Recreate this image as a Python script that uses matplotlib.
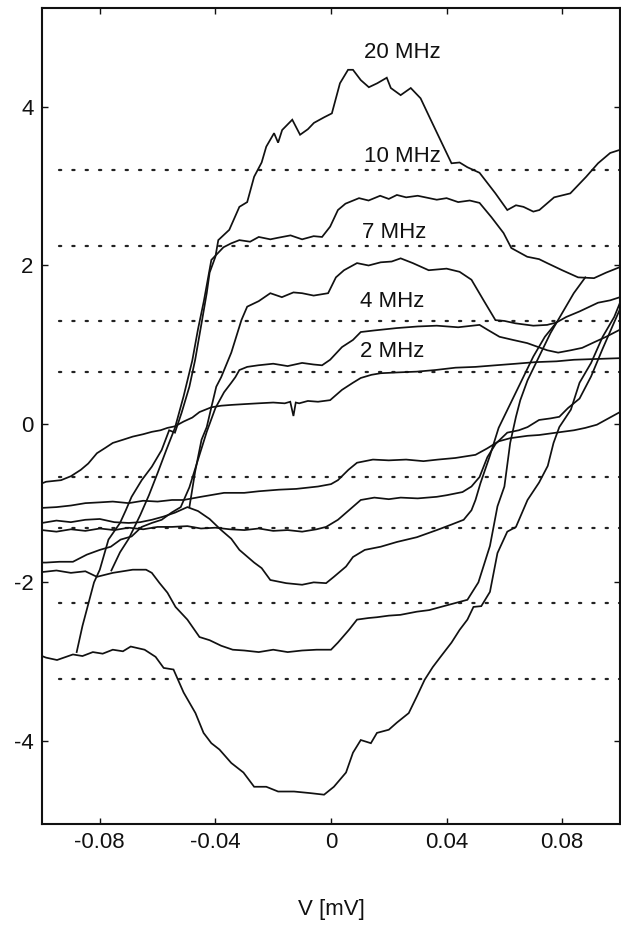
import matplotlib
matplotlib.use("Agg")
import matplotlib.pyplot as plt

plt.rcParams['font.family'] = ['Liberation Sans', 'DejaVu Sans']

# ---------------- data ----------------
freq_labels = ["20 MHz", "10 MHz", "7 MHz", "4 MHz", "2 MHz"]
label_x = [0.0246, 0.0246, 0.0218, 0.0211, 0.0211]
label_y = [4.69, 3.37, 2.42, 1.54, 0.91]

dotted_levels = [3.2, 2.25, 1.3, 0.66, -0.67, -1.32, -2.26, -3.22]

xticks = [-0.08, -0.04, 0, 0.04, 0.08]
xtick_labels = ["-0.08", "-0.04", "0", "0.04", "0.08"]
yticks = [-4, -2, 0, 2, 4]
ytick_labels = ["-4", "-2", "0", "2", "4"]

# 20 MHz
u20_x = [-0.088, -0.086, -0.082, -0.080, -0.077, -0.073, -0.071, -0.069, -0.0655, -0.062, -0.0586, -0.056,
         -0.054, -0.0517, -0.049, -0.047, -0.0448, -0.043, -0.042, -0.040, -0.039, -0.0352, -0.0317, -0.0290,
         -0.0266, -0.0240, -0.0224, -0.0197, -0.0183, -0.0169, -0.0134, -0.0107, -0.0080, -0.0059, -0.0024,
         0.0003, 0.0031, 0.0059, 0.0076, 0.0103, 0.0131, 0.0160, 0.0193, 0.0207, 0.0241, 0.0276, 0.0310,
         0.0345, 0.0379, 0.0417, 0.0445, 0.0472, 0.0514, 0.0569, 0.0610, 0.0640, 0.0666, 0.0700, 0.0721,
         0.0772, 0.0828, 0.0883, 0.0924, 0.0966, 0.1]
u20_y = [-2.88, -2.55, -2.00, -1.84, -1.46, -1.25, -1.09, -0.92, -0.71, -0.54, -0.33, -0.08,
         -0.11, 0.14, 0.47, 0.81, 1.27, 1.65, 1.91, 2.11, 2.32, 2.45, 2.74, 2.80,
         3.12, 3.30, 3.50, 3.67, 3.55, 3.71, 3.84, 3.65, 3.72, 3.80, 3.87,
         3.92, 4.30, 4.47, 4.47, 4.34, 4.25, 4.30, 4.37, 4.24, 4.15, 4.24, 4.11,
         3.84, 3.58, 3.29, 3.30, 3.24, 3.17, 2.91, 2.70, 2.76, 2.74, 2.68, 2.70,
         2.86, 2.91, 3.12, 3.29, 3.42, 3.46]
l20_x = [-0.1, -0.0986, -0.0948, -0.0893, -0.0860, -0.0824, -0.0790, -0.0755, -0.0720, -0.0693, -0.0645,
         -0.0607, -0.0579, -0.0545, -0.0510, -0.0469, -0.0441, -0.0414, -0.0386, -0.0345, -0.0303, -0.0266,
         -0.0224, -0.0183, -0.0128, -0.0072, -0.0024, 0.0010, 0.0052, 0.0076, 0.0103, 0.0138, 0.0159, 0.0200,
         0.0228, 0.0269, 0.0297, 0.0324, 0.0352, 0.0379, 0.0417, 0.0445, 0.0472, 0.0493, 0.052, 0.055,
         0.0576, 0.061, 0.064, 0.068, 0.072, 0.075, 0.077, 0.079, 0.083, 0.086, 0.090, 0.094, 0.098, 0.1]
l20_y = [-2.93, -2.95, -2.98, -2.91, -2.93, -2.88, -2.90, -2.85, -2.87, -2.81, -2.85,
         -2.94, -3.08, -3.10, -3.39, -3.65, -3.90, -4.03, -4.11, -4.28, -4.40, -4.58,
         -4.58, -4.64, -4.64, -4.66, -4.68, -4.58, -4.40, -4.15, -3.99, -4.03, -3.90, -3.86,
         -3.77, -3.65, -3.44, -3.23, -3.07, -2.94, -2.76, -2.60, -2.47, -2.31, -2.30, -2.12,
         -1.63, -1.36, -1.30, -0.96, -0.74, -0.53, -0.24, -0.04, 0.18, 0.52, 0.77, 1.10, 1.35, 1.53]

# 10 MHz
u10_x = [-0.076, -0.073, -0.070, -0.066, -0.063, -0.060, -0.057, -0.054, -0.051, -0.048, -0.046, -0.044,
         -0.0425, -0.0414, -0.0372, -0.0345, -0.0317, -0.0280, -0.0250, -0.0210, -0.0183, -0.0140, -0.0100,
         -0.0060, -0.0031, -0.0003, 0.0024, 0.0050, 0.0097, 0.0130, 0.0170, 0.0200, 0.0228, 0.0260, 0.0300,
         0.0366, 0.0400, 0.0440, 0.0480, 0.0514, 0.0555, 0.0597, 0.0624, 0.0679, 0.0720, 0.0748, 0.0800,
         0.0855, 0.0910, 0.0952, 0.1]
u10_y = [-1.85, -1.62, -1.45, -1.15, -0.90, -0.62, -0.33, -0.05, 0.35, 0.80, 1.20, 1.55,
         1.85, 2.07, 2.23, 2.28, 2.32, 2.30, 2.36, 2.33, 2.35, 2.38, 2.33,
         2.37, 2.36, 2.49, 2.70, 2.78, 2.85, 2.82, 2.88, 2.84, 2.89, 2.86, 2.88,
         2.83, 2.85, 2.80, 2.82, 2.79, 2.61, 2.41, 2.22, 2.11, 2.08, 2.03, 1.94,
         1.85, 1.84, 1.91, 1.98]
l10_x = [-0.1, -0.095, -0.090, -0.085, -0.081, -0.0755, -0.0686, -0.064, -0.0620, -0.0593, -0.0566, -0.0538,
         -0.0497, -0.0455, -0.0420, -0.0380, -0.0340, -0.0300, -0.0250, -0.0200, -0.0150, -0.0100, -0.0050,
         0.0000, 0.0024, 0.0062, 0.0090, 0.0130, 0.0159, 0.0200, 0.0240, 0.0297, 0.0340, 0.0380, 0.0431,
         0.0472, 0.051, 0.055, 0.0576, 0.060, 0.062, 0.064, 0.0655, 0.068, 0.072, 0.076, 0.080, 0.084, 0.088]
l10_y = [-1.87, -1.85, -1.88, -1.86, -1.93, -1.88, -1.84, -1.84, -1.88, -2.01, -2.13, -2.31,
         -2.47, -2.69, -2.73, -2.80, -2.85, -2.86, -2.88, -2.85, -2.88, -2.86, -2.85,
         -2.85, -2.76, -2.60, -2.47, -2.45, -2.44, -2.42, -2.41, -2.37, -2.35, -2.31, -2.26,
         -2.22, -2.00, -1.54, -1.04, -0.79, -0.24, 0.09, 0.30, 0.55, 0.85, 1.15, 1.40, 1.65, 1.85]

# 7 MHz
u7_x = [-0.049, -0.047, -0.0448, -0.043, -0.0414, -0.0397, -0.038, -0.0345, -0.031, -0.029, -0.0250, -0.0210,
        -0.0170, -0.0130, -0.0100, -0.0060, -0.0010, 0.0017, 0.0045, 0.0090, 0.0130, 0.0172, 0.0210, 0.0241,
        0.0283, 0.0338, 0.0400, 0.0445, 0.0486, 0.0528, 0.0569, 0.0600, 0.0638, 0.0700, 0.0748, 0.0780,
        0.0814, 0.0860, 0.0924, 0.0966, 0.1]
u7_y = [-1.05, -0.60, -0.20, -0.04, 0.21, 0.47, 0.59, 0.90, 1.31, 1.48, 1.55, 1.65,
        1.60, 1.66, 1.65, 1.62, 1.65, 1.85, 1.94, 2.03, 2.00, 2.04, 2.05, 2.09,
        2.03, 1.94, 1.96, 1.92, 1.82, 1.56, 1.31, 1.30, 1.27, 1.24, 1.25, 1.28,
        1.35, 1.42, 1.53, 1.56, 1.60]
l7_x = [-0.1, -0.095, -0.090, -0.085, -0.080, -0.075, -0.070, -0.066, -0.062, -0.058, -0.054, -0.0497,
        -0.046, -0.042, -0.038, -0.0345, -0.0317, -0.0266, -0.0240, -0.0210, -0.0155, -0.0100, -0.0060,
        -0.0017, 0.0010, 0.0052, 0.0076, 0.0117, 0.0172, 0.0228, 0.0297, 0.0366, 0.0417, 0.0459, 0.0486,
        0.0500, 0.0517, 0.055, 0.058, 0.062, 0.066, 0.070, 0.074, 0.078]
l7_y = [-1.25, -1.22, -1.24, -1.21, -1.20, -1.24, -1.25, -1.24, -1.21, -1.17, -1.12, -1.05,
        -1.10, -1.20, -1.34, -1.45, -1.59, -1.75, -1.82, -1.97, -2.01, -2.03, -2.00,
        -2.01, -1.93, -1.80, -1.68, -1.59, -1.55, -1.49, -1.43, -1.34, -1.27, -1.21, -1.09,
        -0.96, -0.75, -0.40, -0.05, 0.25, 0.55, 0.85, 1.10, 1.28]

# 4 MHz
u4_x = [-0.1, -0.0986, -0.094, -0.0893, -0.0845, -0.080, -0.0762, -0.0728, -0.0690, -0.0655, -0.0620, -0.0586,
        -0.0552, -0.052, -0.049, -0.046, -0.043, -0.040, -0.037, -0.0345, -0.0331, -0.0317, -0.0290, -0.0252,
        -0.0200, -0.0150, -0.0100, -0.0060, -0.0031, -0.0003, 0.0038, 0.0076, 0.0103, 0.0150, 0.0228, 0.0300,
        0.0366, 0.0440, 0.0514, 0.0541, 0.0583, 0.0630, 0.0679, 0.0748, 0.0786, 0.0830, 0.0869, 0.0910,
        0.0952, 0.1]
u4_y = [-1.75, -1.75, -1.74, -1.74, -1.65, -1.59, -1.55, -1.46, -1.42, -1.30, -1.25, -1.21,
        -1.12, -1.05, -0.80, -0.45, -0.10, 0.20, 0.40, 0.52, 0.59, 0.68, 0.72, 0.74,
        0.76, 0.73, 0.77, 0.75, 0.74, 0.81, 0.97, 1.06, 1.16, 1.18, 1.21, 1.23,
        1.24, 1.22, 1.25, 1.19, 1.10, 1.06, 1.02, 0.93, 0.90, 0.93, 0.96, 1.03,
        1.10, 1.19]
l4_x = [-0.1, -0.095, -0.090, -0.085, -0.080, -0.075, -0.070, -0.065, -0.060, -0.055, -0.0497, -0.045,
        -0.040, -0.035, -0.030, -0.025, -0.020, -0.015, -0.010, -0.005, -0.0017, 0.0024, 0.0062, 0.0103,
        0.0150, 0.0200, 0.0241, 0.0300, 0.0366, 0.0400, 0.0455, 0.0486, 0.0514, 0.0541, 0.057, 0.061,
        0.065, 0.068, 0.072, 0.076, 0.079, 0.082, 0.086, 0.090, 0.094, 0.097, 0.1]
l4_y = [-1.34, -1.36, -1.33, -1.35, -1.32, -1.34, -1.31, -1.33, -1.30, -1.30, -1.29, -1.32,
        -1.31, -1.33, -1.34, -1.32, -1.35, -1.34, -1.36, -1.33, -1.30, -1.21, -1.09, -0.96,
        -0.93, -0.95, -0.93, -0.94, -0.92, -0.90, -0.86, -0.79, -0.67, -0.42, -0.25, -0.11,
        -0.08, -0.04, 0.05, 0.07, 0.09, 0.20, 0.32, 0.60, 0.95, 1.20, 1.45]

# 2 MHz
u2_x = [-0.1, -0.0986, -0.0934, -0.0900, -0.0866, -0.0840, -0.0810, -0.0780, -0.0755, -0.0720, -0.0686,
        -0.0650, -0.0620, -0.0590, -0.0566, -0.0540, -0.0510, -0.0480, -0.0455, -0.0414, -0.0380, -0.0345,
        -0.0300, -0.0252, -0.0200, -0.0160, -0.0141, -0.0130, -0.0122, -0.0110, -0.0080, -0.0045, -0.0003,
        0.0038, 0.0076, 0.0103, 0.0140, 0.0172, 0.0230, 0.0297, 0.0360, 0.0431, 0.0500, 0.0569, 0.0640,
        0.0707, 0.0780, 0.0841, 0.0920, 0.1]
u2_y = [-0.75, -0.73, -0.71, -0.66, -0.58, -0.50, -0.37, -0.30, -0.24, -0.20, -0.16,
        -0.13, -0.10, -0.08, -0.05, -0.03, 0.03, 0.08, 0.15, 0.21, 0.23, 0.24,
        0.25, 0.26, 0.27, 0.26, 0.28, 0.10, 0.27, 0.26, 0.29, 0.28, 0.30,
        0.43, 0.52, 0.58, 0.62, 0.64, 0.65, 0.66, 0.68, 0.71, 0.72, 0.74, 0.76,
        0.78, 0.79, 0.81, 0.82, 0.83]
l2_x = [-0.1, -0.095, -0.090, -0.085, -0.080, -0.0755, -0.070, -0.065, -0.060, -0.055, -0.051, -0.045,
        -0.037, -0.030, -0.025, -0.018, -0.012, -0.0045, 0.0000, 0.0024, 0.0060, 0.0090, 0.0145, 0.0200,
        0.0260, 0.0320, 0.0370, 0.0430, 0.0500, 0.0540, 0.0580, 0.0620, 0.0680, 0.0720, 0.0760, 0.0800,
        0.0841, 0.0880, 0.0920, 0.0960, 0.1]
l2_y = [-1.06, -1.05, -1.03, -1.00, -0.99, -0.98, -1.00, -0.97, -0.98, -0.96, -0.96, -0.92,
        -0.87, -0.87, -0.85, -0.83, -0.82, -0.79, -0.76, -0.71, -0.58, -0.49, -0.45, -0.46,
        -0.45, -0.47, -0.45, -0.43, -0.39, -0.31, -0.22, -0.18, -0.15, -0.14, -0.12, -0.10,
        -0.08, -0.05, -0.01, 0.07, 0.15]

branches = [(u20_x, u20_y), (l20_x, l20_y), (u10_x, u10_y), (l10_x, l10_y),
            (u7_x, u7_y), (l7_x, l7_y), (u4_x, u4_y), (l4_x, l4_y),
            (u2_x, u2_y), (l2_x, l2_y)]

# ---------------- figure ----------------
W, H = 621, 925
fig = plt.figure(figsize=(W / 100, H / 100), dpi=100)
ax = fig.add_axes([42 / W, 1 - 824 / H, 578 / W, 816 / H])
ax.set_xlim(-0.1, 0.1)
ax.set_ylim(-5.05, 5.25)

for lv in dotted_levels:
    ax.plot([-0.094, 0.1], [lv, lv], color='#222222', lw=1.6,
            linestyle=(0, (1, 5)), solid_capstyle='round', dash_capstyle='round')

for bx, by in branches:
    ax.plot(bx, by, color='#111111', lw=1.25, solid_joinstyle='miter')

for t, lx, ly in zip(freq_labels, label_x, label_y):
    ax.text(lx, ly, t, ha='center', va='center', fontsize=16, color='#111111')

ax.set_xticks(xticks)
ax.set_xticklabels(xtick_labels)
ax.set_yticks(yticks)
ax.set_yticklabels(ytick_labels)
ax.tick_params(direction='in', length=4, width=1.0, top=True, right=True,
               labelsize=16, colors='#111111', pad=6)
for s in ax.spines.values():
    s.set_linewidth(1.5)
    s.set_color('#111111')

fig.text(331 / W, 1 - 909 / H, "V [mV]", ha='center', va='center', fontsize=16, color='#111111')

fig.savefig("out.png", dpi=100, facecolor='white')
